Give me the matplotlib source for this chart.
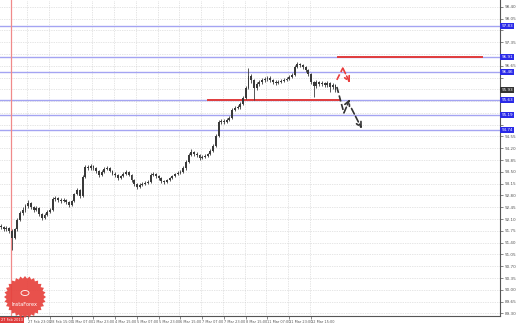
import matplotlib
matplotlib.use("Agg")
import matplotlib.pyplot as plt
from matplotlib.patches import Polygon
import numpy as np

### Price data (2h candles)
closes = [91.86, 91.80, 91.83, 91.75, 91.54, 91.80, 92.07, 92.28, 92.37, 92.49,
          92.58, 92.46, 92.37, 92.43, 92.25, 92.13, 92.22, 92.31, 92.37, 92.69,
          92.72, 92.67, 92.64, 92.67, 92.61, 92.52, 92.64, 92.84, 92.96, 92.78,
          93.35, 93.64, 93.61, 93.67, 93.61, 93.53, 93.41, 93.50, 93.59, 93.61,
          93.53, 93.44, 93.41, 93.32, 93.38, 93.44, 93.50, 93.41, 93.26, 93.14,
          93.05, 93.11, 93.14, 93.17, 93.20, 93.41, 93.44, 93.38, 93.32, 93.23,
          93.20, 93.26, 93.32, 93.38, 93.44, 93.47, 93.50, 93.61, 93.79, 94.00,
          94.09, 94.03, 94.00, 93.91, 93.94, 93.97, 94.03, 94.12, 94.27, 94.56,
          94.98, 95.01, 94.98, 95.04, 95.10, 95.34, 95.40, 95.42, 95.51, 95.69,
          95.99, 96.34, 96.23, 95.99, 96.11, 96.17, 96.23, 96.26, 96.29, 96.23,
          96.17, 96.14, 96.17, 96.20, 96.23, 96.26, 96.32, 96.37, 96.61, 96.70,
          96.67, 96.61, 96.52, 96.40, 96.17, 96.05, 96.17, 96.11, 96.14, 96.08,
          96.14, 96.02, 96.08, 95.93]
first_open = 91.90
highs = [91.95, 91.90, 91.88, 91.86, 91.79, 91.84, 92.12, 92.33, 92.45, 92.55,
         92.66, 92.62, 92.50, 92.49, 92.47, 92.29, 92.27, 92.36, 92.42, 92.76,
         92.79, 92.76, 92.71, 92.72, 92.70, 92.64, 92.68, 92.88, 93.02, 92.99,
         93.40, 93.70, 93.69, 93.72, 93.71, 93.64, 93.56, 93.55, 93.64, 93.67,
         93.65, 93.57, 93.49, 93.45, 93.42, 93.49, 93.55, 93.53, 93.45, 93.29,
         93.18, 93.16, 93.19, 93.22, 93.25, 93.47, 93.50, 93.48, 93.42, 93.35,
         93.27, 93.30, 93.36, 93.42, 93.48, 93.52, 93.55, 93.66, 93.84, 94.06,
         94.18, 94.13, 94.08, 94.04, 93.99, 94.02, 94.07, 94.17, 94.32, 94.62,
         95.04, 95.08, 95.06, 95.09, 95.16, 95.39, 95.46, 95.49, 95.57, 95.75,
         96.05, 96.58, 96.40, 96.27, 96.16, 96.23, 96.29, 96.31, 96.35, 96.33,
         96.27, 96.22, 96.22, 96.25, 96.28, 96.31, 96.37, 96.43, 96.66, 96.76,
         96.74, 96.70, 96.64, 96.55, 96.43, 96.21, 96.22, 96.21, 96.19, 96.18,
         96.20, 96.17, 96.13, 96.11]
lows = [91.80, 91.74, 91.75, 91.70, 91.18, 91.50, 91.76, 92.03, 92.22, 92.32,
        92.44, 92.40, 92.30, 92.33, 92.20, 92.08, 92.09, 92.18, 92.27, 92.34,
        92.64, 92.62, 92.59, 92.60, 92.56, 92.47, 92.49, 92.61, 92.80, 92.73,
        92.75, 93.31, 93.56, 93.57, 93.56, 93.48, 93.36, 93.38, 93.46, 93.55,
        93.49, 93.40, 93.36, 93.27, 93.28, 93.35, 93.40, 93.37, 93.21, 93.09,
        93.00, 93.01, 93.07, 93.10, 93.13, 93.17, 93.37, 93.33, 93.27, 93.18,
        93.15, 93.16, 93.22, 93.29, 93.34, 93.40, 93.43, 93.46, 93.57, 93.75,
        93.96, 93.98, 93.94, 93.86, 93.87, 93.90, 93.93, 93.99, 94.08, 94.23,
        94.52, 94.92, 94.92, 94.94, 95.00, 95.06, 95.30, 95.36, 95.38, 95.47,
        95.65, 95.95, 96.15, 95.63, 95.94, 96.06, 96.12, 96.18, 96.21, 96.18,
        96.12, 96.09, 96.10, 96.13, 96.16, 96.19, 96.22, 96.28, 96.33, 96.57,
        96.61, 96.56, 96.47, 96.35, 96.10, 95.72, 96.00, 96.05, 96.06, 96.02,
        96.03, 95.86, 95.97, 95.86]

### Axis labels
date_labels = ["27 Feb 23:00", "28 Feb 15:00", "1 Mar 07:00", "1 Mar 23:00",
               "4 Mar 15:00", "5 Mar 07:00", "5 Mar 23:00", "6 Mar 15:00",
               "7 Mar 07:00", "7 Mar 23:00", "8 Mar 15:00", "11 Mar 07:00",
               "11 Mar 23:00", "12 Mar 15:00"]
date_bars = [10, 18, 26, 34, 42, 50, 58, 66, 74, 82, 90, 98, 106, 114]
price_ticks = [89.30, 89.65, 90.00, 90.35, 90.70, 91.05, 91.40, 91.75, 92.10,
               92.45, 92.80, 93.15, 93.50, 93.85, 94.20, 94.55, 94.90, 95.25,
               95.60, 95.95, 96.30, 96.65, 97.00, 97.35, 97.70, 98.05, 98.40]

### Horizontal levels
blue_levels = [97.83, 96.91, 96.46, 95.63, 95.19, 94.74]
red_levels = [96.91, 95.63]
red_starts = [124, 76]
red_ends = [177, 124.6]
vline_bar = 3.7

### Forecast arrows (bar, price)
black_path1_x = [123.5, 126.1, 128.3]
black_path1_y = [96.02, 95.25, 95.66]
black_path2_x = [128.9, 132.7]
black_path2_y = [95.38, 94.78]
red_path_x = [123.5, 125.7, 128.3]
red_path_y = [96.23, 96.58, 96.14]

W, H = 518, 325
fig = plt.figure(figsize=(W / 100, H / 100), dpi=100)
ax = fig.add_axes([0, 9 / H, 500 / W, 316 / H])

### Grid
for p in price_ticks:
    ax.axhline(p, color='#cccccc', lw=0.5, ls=(0, (1, 1.5)), zorder=0)
for b in date_bars:
    ax.axvline(b - 0.4, color='#cccccc', lw=0.5, ls=(0, (1, 1.5)), zorder=0)

### Levels
for p in blue_levels:
    ax.axhline(p, color='#a4a4f2', lw=1.0, zorder=1)
for p, s, e in zip(red_levels, red_starts, red_ends):
    ax.plot([s, e], [p, p], color='#e03c3c', lw=1.4, zorder=2)
ax.axvline(vline_bar, color='#f08a8a', lw=0.9, zorder=1)

### Candles
x = np.arange(len(closes))
opens = [first_open] + closes[:-1]
ax.vlines(x, lows, highs, color='#3a3a3a', lw=0.6, zorder=3)
body_h = [c - o for o, c in zip(opens, closes)]
ax.bar(x, body_h, bottom=opens, width=0.7, color='#3a3a3a', zorder=3)

### Arrows
arrow_kw = dict(lw=1.2, ls='--', mutation_scale=9, shrinkA=0, shrinkB=0)
ax.plot(black_path1_x[:-1], black_path1_y[:-1], color='#333333', lw=1.2, ls='--', zorder=4)
ax.annotate('', xy=(black_path1_x[-1], black_path1_y[-1]),
            xytext=(black_path1_x[-2], black_path1_y[-2]),
            arrowprops=dict(arrowstyle='->', color='#333333', **arrow_kw), zorder=4)
ax.annotate('', xy=(black_path2_x[-1], black_path2_y[-1]),
            xytext=(black_path2_x[0], black_path2_y[0]),
            arrowprops=dict(arrowstyle='->', color='#333333', **arrow_kw), zorder=4)
ax.plot(red_path_x[:-1], red_path_y[:-1], color='#e83c3c', lw=1.2, ls='--', zorder=4)
ax.annotate('', xy=(red_path_x[-1], red_path_y[-1]),
            xytext=(red_path_x[-2], red_path_y[-2]),
            arrowprops=dict(arrowstyle='->', color='#e83c3c', **arrow_kw), zorder=4)

### Axes setup (MT4 look)
ax.set_xlim(-0.37, 183.5)
ax.set_ylim(98.6 - 316 / 33.7, 98.6)
ax.yaxis.tick_right()
ax.set_yticks(price_ticks)
tags = blue_levels + [closes[-1]]
ax.set_yticklabels([f"{p:.2f}" if min(abs(p - t) for t in tags) > 0.17 else ""
                    for p in price_ticks])
ax.set_xticks(date_bars)
ax.set_xticklabels(date_labels, ha='left')
ax.tick_params(axis='y', labelsize=3, length=2, pad=1.5, colors='#555555', width=0.5)
ax.tick_params(axis='x', labelsize=2.5, length=2, pad=1, colors='#555555', width=0.5)
for s in ['top', 'left']:
    ax.spines[s].set_visible(False)
for s in ['right', 'bottom']:
    ax.spines[s].set_color('#555555')
    ax.spines[s].set_linewidth(0.8)

### Level tags on price scale
tr = ax.get_yaxis_transform()
for p in blue_levels:
    ax.text(1.003, p, f"{p:.2f}", transform=tr, fontsize=3, color='white',
            va='center', ha='left', clip_on=False, zorder=6,
            bbox=dict(boxstyle='square,pad=0.25', fc='#2a2ae8', ec='none'))
ax.text(1.003, closes[-1], f"{closes[-1]:.2f}", transform=tr, fontsize=3,
        color='white', va='center', ha='left', clip_on=False, zorder=6,
        bbox=dict(boxstyle='square,pad=0.25', fc='#333333', ec='none'))

### Date tag of vertical line
fig.text(1 / W, 1 - 320 / H, "27 Feb 2013", fontsize=2.5, color='white',
         va='center', ha='left',
         bbox=dict(boxstyle='square,pad=0.3', fc='#e03c3c', ec='none'))

### InstaForex logo
cx, cy = 25, 297
ang = np.linspace(0, 2 * np.pi, 57)[:-1]
rad = np.where(np.arange(56) % 2 == 0, 21, 18.5)
pts = np.column_stack([(cx + rad * np.cos(ang)) / W, 1 - (cy + rad * np.sin(ang)) / H])
fig.add_artist(Polygon(pts, closed=True, fc='#e6423d', ec='none', alpha=0.92,
                       transform=fig.transFigure, zorder=10))
fig.text(cx / W, 1 - (cy + 7) / H, "InstaForex", fontsize=3.6, color='white',
         ha='center', va='center', zorder=11)
fig.add_artist(plt.Circle((cx / W, 1 - (cy - 4) / H), 4 / W, fc='none', ec='white',
                          lw=0.6, transform=fig.transFigure, zorder=11))

fig.savefig("out.png", dpi=100)
